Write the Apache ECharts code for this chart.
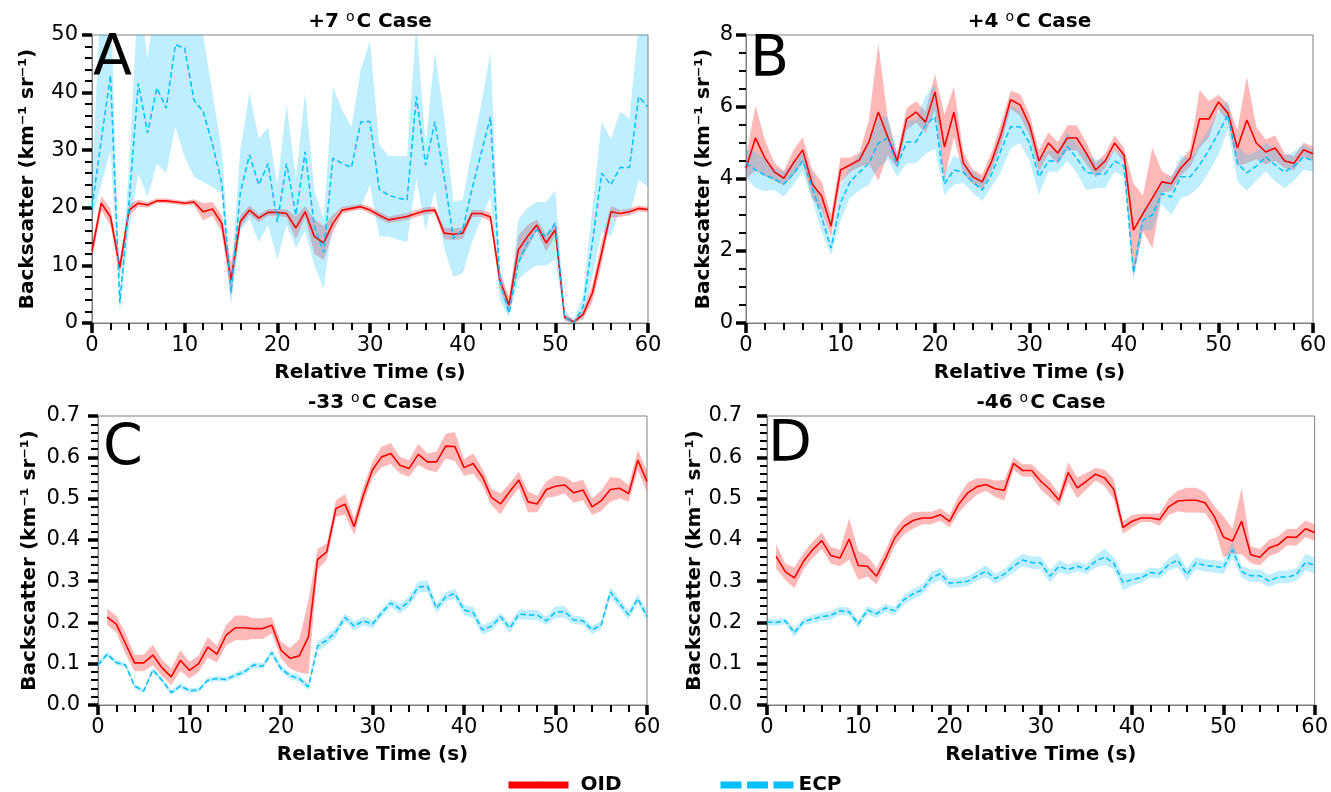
<!DOCTYPE html>
<html lang="en">
<head>
<meta charset="UTF-8">
<title>Backscatter OID vs ECP</title>
<script src="https://cdn.jsdelivr.net/npm/echarts@6.0.0/dist/echarts.min.js"></script>
<style>
    html, body { margin: 0; padding: 0; background: #fff; }
    #main { width: 1331px; height: 792px; }
</style>
</head>
<body>

<div id="main"></div>

<script>
    // relative time (s), one sample per second
    const secs = [0,1,2,3,4,5,6,7,8,9,10,11,12,13,14,15,16,17,18,19,20,21,22,23,24,25,26,27,28,29,30,
        31,32,33,34,35,36,37,38,39,40,41,42,43,44,45,46,47,48,49,50,51,52,53,54,55,56,57,58,59,60];

    // A: +7 C case
    const oidA = [12.5,20.8,18.4,9.6,19.6,20.8,20.5,21.2,21.2,21.0, 20.8,21.0,19.3,19.8,17.3,7.5,17.6,19.6,18.2,19.2,
        19.2,19.0,16.5,19.3,15.0,13.9,17.3,19.6,19.9,20.2, 19.6,18.7,17.9,18.2,18.5,19.0,19.5,19.6,15.6,15.4,
        15.6,19.0,19.0,18.4,7.5,3.1,12.7,15.0,17.0,13.9, 16.2,1.0,0.2,1.5,5.2,12.2,19.3,19.0,19.3,19.9,19.7];
    const oidSpreadA = [1.5,1.2,1.5,1.5,1.0,0.6,0.5,0.4,0.4,0.4, 0.4,0.5,1.5,1.2,1.5,3.0,1.0,0.8,0.7,0.6,
        0.6,0.7,2.0,1.0,3.0,3.0,1.5,0.6,0.5,0.5, 0.6,0.6,0.6,0.6,0.6,0.6,0.6,0.6,1.0,1.0,
        1.0,0.6,0.6,0.8,1.5,1.5,2.5,2.0,1.0,1.5, 1.0,0.6,0.3,0.8,1.5,2.0,1.0,0.6,0.6,0.5,0.5];
    const ecpA = [20,31.8,43.0,3.5,21,41.6,33,40.8,37.3,48.3, 47.7,38.7,36.7,31,24.3,5.2,22.6,29.2,24,27.7,
        17.5,27.7,18.7,29.7,16.7,12.3,28.6,27.7,27,34.9, 35,23.2,22.2,21.7,21.4,39.3,27.4,34.9,25.4,14.7,
        16.2,23.2,29.5,35.8,7.5,1.7,10.4,13.9,16.2,15, 17.4,1,0,2.8,14,26,24,27,27,39.3,37.5];
    const ecpLowA = [18,24,30,2,16,26,21.9,27.7,26,34, 28.8,25.4,24.5,23.6,22.4,3,16,18,14,17,
        11,17,13,16,10,6,18,20,20,20, 24,15,15,14.5,14,25,16,23,13,8,
        8.6,14,18,22,4,1,7.5,9,10,10, 11,0.5,0,1,8,16,15,19.7,18.5,24.8,23.7];
    const ecpHighA = [25,58,58,5,27,58,46,58,58,62, 62,58,50,40,30,8,30,40,32,34,
        24,38,25,40,23,18,41,37,34,44, 49,31,29,29,29,52,31,47,36,21,
        21.4,30,38,47,10,3,17.9,20,21,21, 23,2,0.5,5,20,35,32,36.7,35.5,52,55];

    // B: +4 C case
    const oidB = [4.3,5.14,4.58,4.2,4.02,4.44,4.81,3.86,3.53,2.69, 4.25,4.39,4.53,5.03,5.86,5.17,4.5,5.67,5.86,5.58,
        6.42,4.89,5.86,4.44,4.06,3.92,4.5,5.25,6.2,6.06, 5.5,4.5,5.0,4.72,5.14,5.14,4.72,4.25,4.5,5.0,
        4.67,2.58,3.04,3.47,3.92,3.87,4.3,4.58,5.67,5.67, 6.14,5.83,4.86,5.64,5.0,4.75,4.86,4.5,4.44,4.81,4.7];
    const oidSpreadB = [0.3,0.9,0.5,0.25,0.2,0.35,0.35,0.4,0.4,0.3, 0.35,0.2,0.2,0.6,1.9,0.5,0.2,0.3,0.3,0.3,
        0.5,0.9,0.7,0.3,0.2,0.2,0.25,0.3,0.25,0.3, 0.3,0.3,0.3,0.3,0.35,0.35,0.3,0.2,0.2,0.2,
        0.2,1.3,0.5,1.4,0.3,0.2,0.2,0.25,0.8,0.5, 0.2,0.25,0.5,1.2,0.45,0.35,0.35,0.2,0.2,0.2,0.2];
    const ecpB = [4.45,4.25,4.11,4.0,3.86,4.14,4.5,3.78,2.94,2.08, 3.33,3.92,4.19,4.44,5.0,5.14,4.36,5.03,5.03,5.5,
        5.73,3.86,4.25,4.19,3.92,3.69,4.14,4.81,5.45,5.45, 5.0,4.06,4.5,4.5,4.9,4.58,4.19,4.14,4.14,4.5,
        4.36,1.39,2.86,3.0,3.6,3.5,4.06,4.06,4.39,4.81, 5.28,5.78,4.44,4.17,4.36,4.61,4.39,4.19,4.36,4.61,4.5];
    const ecpSpreadB = [0.4,0.5,0.45,0.3,0.35,0.3,0.3,0.35,0.4,0.2, 0.5,0.45,0.5,0.6,0.7,0.6,0.3,0.6,0.6,0.8,
        0.9,0.3,0.4,0.3,0.3,0.3,0.35,0.6,0.6,0.45, 0.5,0.5,0.3,0.3,0.4,0.4,0.5,0.4,0.4,0.3,
        0.3,0.2,0.3,0.4,0.3,0.5,0.6,0.5,0.6,0.6, 0.6,0.4,0.5,0.5,0.4,0.4,0.45,0.45,0.4,0.35,0.3];

    // C: -33 C case (OID starts at 1 s)
    const oidC = [null,0.213,0.196,0.149,0.102,0.102,0.121,0.09,0.068,0.108, 0.084,0.1,0.14,0.123,0.169,0.187,0.187,0.185,0.185,0.193,
        0.133,0.113,0.119,0.165,0.353,0.371,0.476,0.486,0.432,0.508, 0.57,0.601,0.609,0.581,0.573,0.607,0.589,0.589,0.627,0.626,
        0.575,0.585,0.553,0.503,0.487,0.517,0.545,0.492,0.487,0.522, 0.53,0.533,0.514,0.521,0.48,0.495,0.522,0.525,0.512,0.593,0.541];
    const oidSpreadC = [null,0.02,0.02,0.025,0.02,0.02,0.025,0.02,0.02,0.025, 0.02,0.02,0.025,0.02,0.025,0.03,0.03,0.025,0.025,0.02,
        0.02,0.025,0.04,0.09,0.025,0.02,0.02,0.025,0.02,0.02, 0.02,0.025,0.025,0.02,0.02,0.025,0.02,0.025,0.03,0.035,
        0.02,0.025,0.02,0.02,0.025,0.02,0.02,0.025,0.02,0.02, 0.025,0.02,0.025,0.025,0.02,0.025,0.03,0.025,0.02,0.025,0.025];
    const ecpC = [0.097,0.123,0.103,0.097,0.046,0.034,0.085,0.06,0.03,0.046, 0.035,0.036,0.06,0.064,0.062,0.072,0.08,0.097,0.094,0.127,
        0.088,0.071,0.064,0.044,0.143,0.157,0.177,0.212,0.191,0.204, 0.196,0.223,0.247,0.233,0.251,0.286,0.288,0.234,0.262,0.27,
        0.23,0.224,0.182,0.191,0.214,0.186,0.22,0.218,0.218,0.204, 0.225,0.226,0.206,0.204,0.182,0.194,0.274,0.246,0.218,0.258,0.214];
    const ecpSpreadC = [0.006,0.006,0.006,0.006,0.006,0.006,0.006,0.006,0.006,0.006, 0.006,0.006,0.006,0.006,0.006,0.007,0.007,0.007,0.007,0.008,
        0.008,0.008,0.008,0.008,0.012,0.012,0.012,0.01,0.012,0.01, 0.01,0.01,0.01,0.012,0.012,0.014,0.014,0.012,0.012,0.012,
        0.012,0.014,0.012,0.012,0.01,0.012,0.012,0.012,0.012,0.01, 0.014,0.014,0.01,0.01,0.01,0.01,0.012,0.012,0.01,0.012,0.012];

    // D: -46 C case (OID starts at 1 s)
    const oidD = [null,0.36,0.323,0.308,0.348,0.376,0.398,0.362,0.356,0.402, 0.338,0.336,0.312,0.356,0.405,0.433,0.447,0.453,0.453,0.461,
        0.445,0.486,0.514,0.529,0.534,0.524,0.52,0.585,0.568,0.568, 0.542,0.522,0.496,0.563,0.526,0.542,0.559,0.55,0.522,0.43,
        0.445,0.453,0.453,0.449,0.48,0.494,0.496,0.496,0.49,0.457, 0.407,0.397,0.445,0.364,0.358,0.38,0.388,0.407,0.406,0.427,0.418];
    const oidSpreadD = [null,0.03,0.02,0.025,0.02,0.02,0.02,0.02,0.02,0.05, 0.035,0.025,0.02,0.02,0.02,0.02,0.02,0.015,0.015,0.015,
        0.015,0.02,0.025,0.02,0.015,0.02,0.025,0.015,0.015,0.015, 0.02,0.02,0.015,0.025,0.025,0.02,0.015,0.02,0.025,0.015,
        0.015,0.01,0.01,0.015,0.02,0.025,0.03,0.03,0.025,0.025, 0.05,0.03,0.08,0.02,0.02,0.02,0.02,0.02,0.02,0.02,0.02];
    const ecpD = [0.201,0.2,0.204,0.175,0.202,0.208,0.214,0.217,0.228,0.226, 0.196,0.23,0.221,0.235,0.228,0.255,0.269,0.279,0.308,0.318,
        0.295,0.297,0.3,0.313,0.324,0.306,0.317,0.336,0.351,0.345, 0.344,0.312,0.336,0.328,0.336,0.329,0.348,0.359,0.343,0.297,
        0.304,0.308,0.321,0.318,0.34,0.351,0.316,0.344,0.338,0.336, 0.332,0.376,0.323,0.313,0.313,0.3,0.31,0.31,0.316,0.346,0.338];
    const ecpSpreadD = [0.008,0.008,0.008,0.01,0.008,0.01,0.01,0.01,0.01,0.01, 0.01,0.01,0.01,0.01,0.01,0.012,0.012,0.012,0.015,0.015,
        0.012,0.012,0.012,0.012,0.015,0.012,0.012,0.015,0.015,0.015, 0.015,0.015,0.015,0.012,0.012,0.012,0.015,0.02,0.015,0.02,
        0.015,0.012,0.012,0.012,0.015,0.018,0.015,0.015,0.015,0.015, 0.015,0.02,0.015,0.015,0.015,0.015,0.015,0.015,0.015,0.02,0.02];

    const FONT = 'DejaVu Sans';
    const RED = '#ff0000';
    const BLUE = '#00bfff';
    const yName = 'Backscatter (km\u207b\u00b9 sr\u207b\u00b9)';

    function lower(v, s) { return v.map((x, i) => x == null ? null : x - s[i]); }
    function upper(v, s) { return v.map((x, i) => x == null ? null : x + s[i]); }

    const panels = [
        { letter: 'A', temp: '+7 ', grid: { left: 92, top: 35, width: 556, height: 288 },
          yMax: 50, yStep: 10, yMinor: 5, digits: 0, labelMargin: 14, nameGap: 54, letterPos: [93, 32],
          oid: oidA, oidLo: lower(oidA, oidSpreadA), oidHi: upper(oidA, oidSpreadA),
          ecp: ecpA, ecpLo: ecpLowA, ecpHi: ecpHighA },
        { letter: 'B', temp: '+4 ', grid: { left: 746, top: 35, width: 567, height: 288 },
          yMax: 8, yStep: 2, yMinor: 4, digits: 0, labelMargin: 13, nameGap: 32, letterPos: [750, 33],
          oid: oidB, oidLo: lower(oidB, oidSpreadB), oidHi: upper(oidB, oidSpreadB),
          ecp: ecpB, ecpLo: lower(ecpB, ecpSpreadB), ecpHi: upper(ecpB, ecpSpreadB) },
        { letter: 'C', temp: '-33 ', grid: { left: 98, top: 416, width: 549, height: 289 },
          yMax: 0.7, yStep: 0.1, yMinor: 5, digits: 1, labelMargin: 18, nameGap: 58, letterPos: [103, 422],
          oid: oidC, oidLo: lower(oidC, oidSpreadC), oidHi: upper(oidC, oidSpreadC),
          ecp: ecpC, ecpLo: lower(ecpC, ecpSpreadC), ecpHi: upper(ecpC, ecpSpreadC) },
        { letter: 'D', temp: '-46 ', grid: { left: 767, top: 416, width: 548, height: 289 },
          yMax: 0.7, yStep: 0.1, yMinor: 5, digits: 1, labelMargin: 25, nameGap: 52, letterPos: [768, 418],
          oid: oidD, oidLo: lower(oidD, oidSpreadD), oidHi: upper(oidD, oidSpreadD),
          ecp: ecpD, ecpLo: lower(ecpD, ecpSpreadD), ecpHi: upper(ecpD, ecpSpreadD) }
    ];

    // pair each value with its time, dropping missing samples
    function pts(vals) {
        const out = [];
        vals.forEach((v, i) => { if (v != null) out.push([secs[i], v]); });
        return out;
    }

    // shaded band: polygon along the upper edge and back along the lower edge
    function band(p, lo, hi, color) {
        const top = pts(hi);
        const bottom = pts(lo).reverse();
        return {
            type: 'custom', xAxisIndex: p, yAxisIndex: p, silent: true, clip: true, z: 1,
            data: [[0, 0]], encode: { x: 0, y: 1 },
            renderItem: function (params, api) {
                const ring = top.concat(bottom).map(d => api.coord(d));
                return { type: 'polygon', shape: { points: ring }, style: { fill: color } };
            }
        };
    }

    const grids = [], xAxes = [], yAxes = [], series = [], graphics = [];
    const tickStyle = { color: '#000' };

    panels.forEach((pn, p) => {
        grids.push(Object.assign({ show: true, borderColor: '#808080', borderWidth: 1 }, pn.grid));

        xAxes.push({
            gridIndex: p, type: 'value', min: 0, max: 60, interval: 10,
            name: 'Relative Time (s)', nameLocation: 'middle', nameGap: 40,
            nameTextStyle: { fontFamily: FONT, fontWeight: 'bold', fontSize: 20, color: '#000' },
            axisLine: { show: true, lineStyle: { color: '#808080', width: 1 } },
            axisTick: { show: true, length: 10, lineStyle: Object.assign({ width: 3.5 }, tickStyle) },
            minorTick: { show: true, splitNumber: 5, length: 7, lineStyle: Object.assign({ width: 2 }, tickStyle) },
            axisLabel: { fontFamily: FONT, fontSize: 21, color: '#000', margin: 12 },
            splitLine: { show: false }
        });

        yAxes.push({
            gridIndex: p, type: 'value', min: 0, max: pn.yMax, interval: pn.yStep,
            name: yName, nameLocation: 'middle', nameGap: pn.nameGap,
            nameTextStyle: { fontFamily: FONT, fontWeight: 'bold', fontSize: 20, color: '#000' },
            axisLine: { show: true, lineStyle: { color: '#808080', width: 1 } },
            axisTick: { show: true, length: 10, lineStyle: Object.assign({ width: 3.5 }, tickStyle) },
            minorTick: { show: true, splitNumber: pn.yMinor, length: 7, lineStyle: Object.assign({ width: 2 }, tickStyle) },
            axisLabel: {
                fontFamily: FONT, fontSize: 21, color: '#000', margin: pn.labelMargin,
                formatter: v => v.toFixed(pn.digits)
            },
            splitLine: { show: false }
        });

        series.push(band(p, pn.oidLo, pn.oidHi, 'rgba(255,0,0,0.28)'));
        series.push(band(p, pn.ecpLo, pn.ecpHi, 'rgba(0,191,255,0.25)'));
        series.push({
            name: 'OID', type: 'line', xAxisIndex: p, yAxisIndex: p, data: pts(pn.oid),
            symbol: 'none', itemStyle: { color: RED }, lineStyle: { color: RED, width: 1.6 }, z: 3
        });
        series.push({
            name: 'ECP', type: 'line', xAxisIndex: p, yAxisIndex: p, data: pts(pn.ecp),
            symbol: 'none', itemStyle: { color: BLUE }, lineStyle: { color: BLUE, width: 1.5, type: [5.5, 3] }, z: 4
        });

        // panel title, with a raised "o" for degrees
        graphics.push({
            type: 'text', x: pn.grid.left + pn.grid.width / 2, y: pn.grid.top - 13,
            style: {
                text: '{n|' + pn.temp + '}{s|o}{n|C Case}',
                align: 'center', verticalAlign: 'middle', textAlign: 'center', textVerticalAlign: 'middle',
                rich: {
                    n: { fontFamily: FONT, fontWeight: 'bold', fontSize: 20, fill: '#000', color: '#000', lineHeight: 24 },
                    s: { fontFamily: FONT, fontSize: 14, fill: '#000', color: '#000', verticalAlign: 'top', padding: [0, 2, 0, 0] }
                }
            }
        });
        // panel letter
        graphics.push({
            type: 'text', x: pn.letterPos[0], y: pn.letterPos[1], z: 10,
            style: {
                text: pn.letter, fontFamily: FONT, fontSize: 57, fill: '#000',
                align: 'left', verticalAlign: 'top', textAlign: 'left', textVerticalAlign: 'top'
            }
        });
    });

    const legendText = { fontFamily: FONT, fontWeight: 'bold', fontSize: 20, color: '#000' };

    const option = {
        animation: false,
        backgroundColor: '#fff',
        grid: grids,
        xAxis: xAxes,
        yAxis: yAxes,
        legend: [
            { data: ['OID'], left: 500, top: 770, itemWidth: 60, itemHeight: 8,
              lineStyle: { width: 7, color: RED, type: 'solid' },
              textStyle: Object.assign({ padding: [0, 0, 0, 7] }, legendText) },
            { data: ['ECP'], left: 712, top: 770, itemWidth: 73, itemHeight: 8,
              lineStyle: { width: 7, color: BLUE, type: [21, 5.5] },
              textStyle: Object.assign({ padding: [0, 0, 0, 0] }, legendText) }
        ],
        graphic: graphics,
        series: series
    };

    const chart = echarts.init(document.getElementById('main'));
    chart.setOption(option);
</script>

</body>
</html>
